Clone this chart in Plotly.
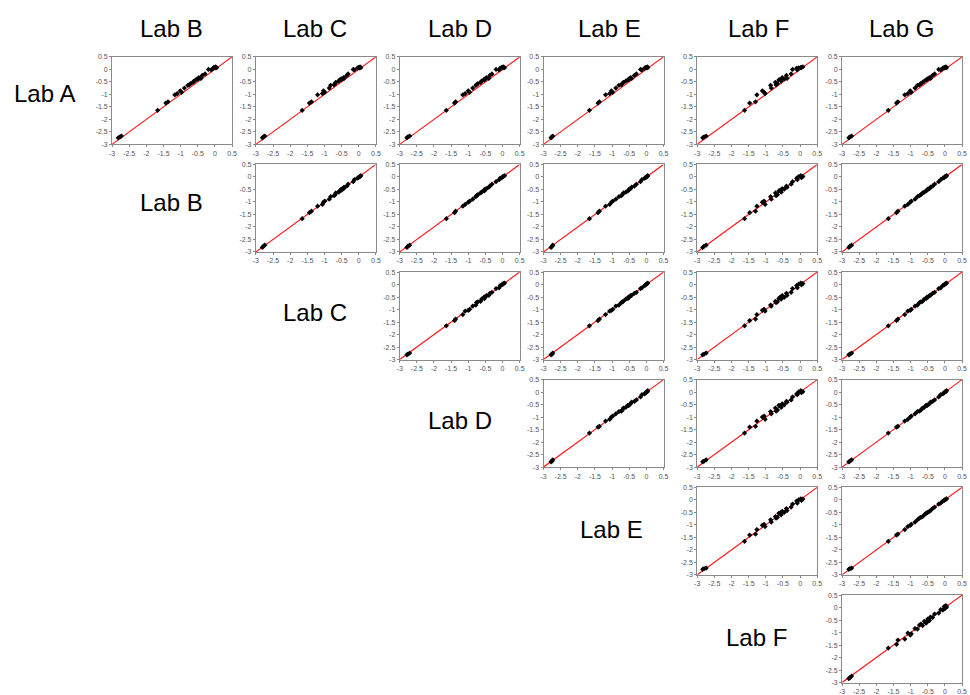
import plotly.graph_objects as go

labs = ["Lab A", "Lab B", "Lab C", "Lab D", "Lab E", "Lab F", "Lab G"]

lab_a = [-2.74, -2.70, -2.67, -1.64, -1.35, -1.30, -1.02, -0.97, -0.86, -0.92, -0.75, -0.64, -0.62, -0.52, -0.47,
         -0.42, -0.38, -0.33, -0.36, -0.24, -0.18, 0.00, -0.02, 0.05, 0.08, 0.06, 0.10, 0.07, -0.40, -0.57]
lab_b = [-2.82, -2.77, -2.73, -1.67, -1.43, -1.37, -1.17, -1.10, -1.01, -0.97, -0.89, -0.79, -0.75, -0.64, -0.61,
         -0.56, -0.49, -0.47, -0.41, -0.37, -0.29, -0.19, -0.11, -0.05, -0.03, 0.01, 0.02, 0.05, -0.53, -0.71]
lab_c = [-2.81, -2.78, -2.74, -1.65, -1.44, -1.38, -1.20, -1.06, -1.03, -0.99, -0.86, -0.82, -0.72, -0.67, -0.58,
         -0.56, -0.51, -0.44, -0.43, -0.35, -0.31, -0.16, -0.13, -0.04, -0.01, 0.02, 0.04, 0.06, -0.50, -0.69]
lab_d = [-2.79, -2.76, -2.71, -1.64, -1.40, -1.37, -1.16, -1.09, -1.00, -0.96, -0.87, -0.78, -0.76, -0.64, -0.61,
         -0.53, -0.51, -0.47, -0.40, -0.37, -0.31, -0.19, -0.10, -0.07, -0.02, 0.01, 0.02, 0.06, -0.54, -0.72]
lab_e = [-2.78, -2.75, -2.73, -1.66, -1.41, -1.37, -1.19, -1.07, -1.02, -0.98, -0.89, -0.80, -0.73, -0.67, -0.60,
         -0.54, -0.50, -0.46, -0.43, -0.35, -0.29, -0.17, -0.13, -0.05, -0.02, 0.00, 0.03, 0.04, -0.52, -0.70]
lab_f = [-2.84, -2.80, -2.74, -1.62, -1.47, -1.30, -1.26, -1.02, -1.10, -1.05, -0.84, -0.86, -0.70, -0.72, -0.55,
         -0.62, -0.46, -0.52, -0.38, -0.40, -0.26, -0.22, -0.08, -0.10, 0.04, -0.04, 0.08, 0.02, -0.58, -0.66]
lab_g = [-2.80, -2.77, -2.72, -1.65, -1.41, -1.37, -1.17, -1.08, -1.01, -0.98, -0.87, -0.80, -0.74, -0.65, -0.60,
         -0.55, -0.50, -0.45, -0.42, -0.36, -0.30, -0.18, -0.12, -0.06, -0.02, 0.00, 0.03, 0.05, -0.52, -0.70]

lab_values = [lab_a, lab_b, lab_c, lab_d, lab_e, lab_f, lab_g]

axis_range = [-3, 0.5]
identity_line = [-3, 0.5]
tick_vals = [-3, -2.5, -2, -1.5, -1, -0.5, 0, 0.5]
tick_text = ["-3", "-2.5", "-2", "-1.5", "-1", "-0.5", "0", "0.5"]

W, H = 970, 695
col_left = [110, 255, 400, 545, 700, 846]
panel_w = 121
row_top = [53.5, 162.3, 271.2, 380, 489, 598]
panel_h = 88.5

fig = go.Figure()
layout = dict(
    width=W, height=H,
    margin=dict(l=0, r=0, t=0, b=0),
    paper_bgcolor="white", plot_bgcolor="white",
    showlegend=False,
    font=dict(family="Liberation Sans, Arial, sans-serif"),
)

idx = 0
for r in range(6):          # row lab index r (Lab A..Lab F)
    for c in range(r, 6):   # column lab index c+1 (Lab B..Lab G)
        idx += 1
        xa = "x" if idx == 1 else f"x{idx}"
        ya = "y" if idx == 1 else f"y{idx}"
        xkey = "xaxis" if idx == 1 else f"xaxis{idx}"
        ykey = "yaxis" if idx == 1 else f"yaxis{idx}"
        x0 = col_left[c] / W
        x1 = (col_left[c] + panel_w) / W
        y1 = 1 - row_top[r] / H
        y0 = 1 - (row_top[r] + panel_h) / H
        common = dict(
            range=axis_range, tickvals=tick_vals, ticktext=tick_text,
            showgrid=False, zeroline=False, showline=True, mirror=True,
            linecolor="#8a8a8a", linewidth=1, ticks="outside", ticklen=2,
            tickcolor="#8a8a8a", tickfont=dict(size=7, color="#555555"),
        )
        layout[xkey] = dict(common, domain=[x0, x1], anchor=ya)
        layout[ykey] = dict(common, domain=[y0, y1], anchor=xa)
        fig.add_trace(go.Scatter(x=identity_line, y=identity_line, mode="lines",
                                 line=dict(color="#ff1a1a", width=1.2),
                                 xaxis=xa, yaxis=ya, hoverinfo="skip"))
        fig.add_trace(go.Scatter(x=lab_values[c + 1], y=lab_values[r], mode="markers",
                                 marker=dict(color="black", size=4, symbol="diamond"),
                                 xaxis=xa, yaxis=ya))

annotations = []
header_x = [170, 315, 461, 612, 762, 906]
for i, hx in enumerate(header_x):
    annotations.append(dict(text=labs[i + 1], x=hx / W, y=1 - 25 / H, xref="paper", yref="paper",
                            showarrow=False, font=dict(size=24, color="black"),
                            xanchor="center", yanchor="middle"))
annotations.append(dict(text=labs[0], x=42 / W, y=1 - 91 / H, xref="paper", yref="paper",
                        showarrow=False, font=dict(size=24, color="black"),
                        xanchor="center", yanchor="middle"))
diag_pos = [(170, 201), (315, 312), (461, 421), (614, 532), (760, 641)]
for i, (dx, dy) in enumerate(diag_pos):
    annotations.append(dict(text=labs[i + 1], x=dx / W, y=1 - dy / H, xref="paper", yref="paper",
                            showarrow=False, font=dict(size=24, color="black"),
                            xanchor="center", yanchor="middle"))
layout["annotations"] = annotations

fig.update_layout(**layout)
fig.write_html("out.html", config={"displayModeBar": False},
               post_script="document.body.style.margin='0';document.body.style.overflow='hidden';")
